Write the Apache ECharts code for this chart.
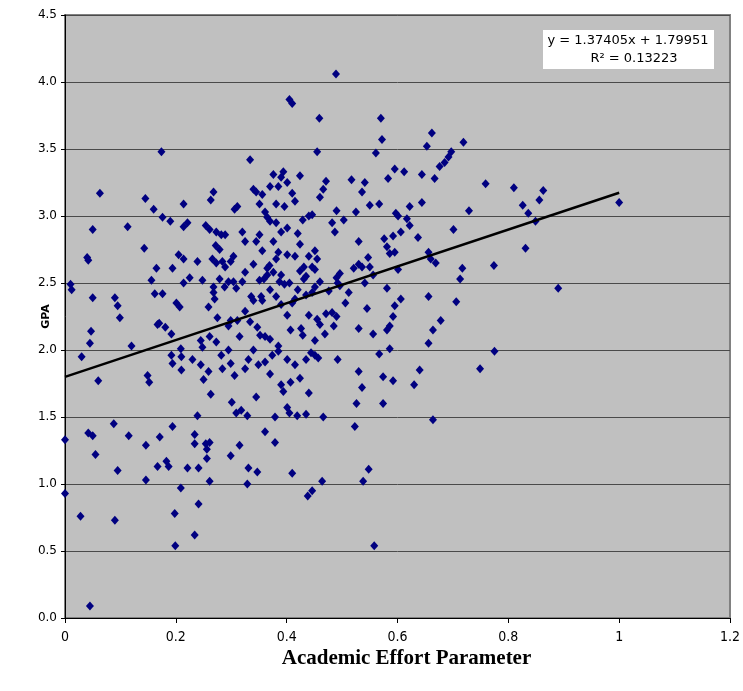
<!DOCTYPE html>
<html>
<head>
<meta charset="utf-8">
<script src="https://cdn.jsdelivr.net/npm/echarts@6/dist/echarts.min.js"></script>
<style>
  html, body { margin: 0; padding: 0; background: #fff; }
  #chart { width: 743px; height: 691px; }
</style>
</head>
<body>
<div id="chart"></div>
<script>
// effort parameter / GPA pairs
const points = [
  [0.0, 1.33], [0.0, 0.93], [0.01, 2.49], [0.012, 2.45], [0.03, 1.95], [0.028, 0.76],
  [0.04, 2.69], [0.042, 2.67], [0.045, 2.05], [0.042, 1.38], [0.05, 1.36], [0.047, 2.14],
  [0.05, 2.90], [0.05, 2.39], [0.045, 0.09], [0.055, 1.22], [0.06, 1.77], [0.063, 3.17],
  [0.09, 2.39], [0.088, 1.45], [0.09, 0.73], [0.095, 2.33], [0.099, 2.24], [0.095, 1.10],
  [0.113, 2.92], [0.115, 1.36], [0.12, 2.03],
  [0.145, 3.13], [0.143, 2.76], [0.149, 1.81], [0.152, 1.76], [0.146, 1.29], [0.146, 1.03],
  [0.156, 2.52], [0.16, 3.05], [0.162, 2.42], [0.165, 2.61], [0.167, 2.19], [0.17, 2.20],
  [0.171, 1.35], [0.167, 1.13], [0.176, 2.99], [0.176, 2.42], [0.174, 3.48], [0.181, 2.17],
  [0.183, 1.17], [0.187, 1.13], [0.19, 2.96], [0.192, 2.12], [0.192, 1.96], [0.194, 2.61],
  [0.194, 1.90], [0.194, 1.43], [0.198, 0.78], [0.201, 2.35], [0.199, 0.54], [0.205, 2.71],
  [0.207, 2.32], [0.209, 2.01], [0.21, 1.95], [0.21, 1.85], [0.209, 0.97], [0.214, 3.09],
  [0.214, 2.92], [0.214, 2.68], [0.214, 2.50], [0.221, 2.95], [0.221, 1.12], [0.225, 2.54],
  [0.23, 1.93], [0.234, 1.37], [0.234, 1.30], [0.234, 0.62], [0.239, 2.66], [0.239, 1.51],
  [0.241, 1.12], [0.245, 2.07], [0.245, 1.89], [0.241, 0.85], [0.248, 2.52], [0.248, 2.02],
  [0.25, 1.78], [0.254, 2.93], [0.254, 1.30], [0.259, 2.32], [0.259, 1.84], [0.256, 1.26],
  [0.256, 1.19], [0.263, 3.12], [0.261, 2.90], [0.261, 2.10], [0.263, 1.67], [0.261, 1.31],
  [0.261, 1.02], [0.268, 3.18], [0.266, 2.68], [0.268, 2.47], [0.268, 2.43], [0.27, 2.38],
  [0.273, 2.88], [0.272, 2.78], [0.273, 2.65], [0.275, 2.24], [0.273, 2.06], [0.279, 2.75],
  [0.279, 2.53], [0.282, 2.86], [0.284, 2.66], [0.282, 1.96], [0.284, 1.86], [0.289, 2.86],
  [0.288, 2.47], [0.289, 2.62], [0.295, 2.51], [0.295, 2.18], [0.295, 2.00], [0.299, 2.66],
  [0.299, 2.22], [0.299, 1.90], [0.301, 1.61], [0.299, 1.21], [0.306, 3.05], [0.304, 2.70],
  [0.304, 2.51], [0.306, 1.81], [0.311, 3.07], [0.309, 2.46], [0.311, 2.22], [0.309, 1.53],
  [0.315, 2.10], [0.315, 1.29], [0.32, 2.88], [0.32, 2.51], [0.318, 1.55], [0.325, 2.81],
  [0.325, 2.58], [0.325, 2.29], [0.325, 1.86], [0.331, 1.93], [0.329, 1.51], [0.331, 1.12],
  [0.329, 1.00], [0.334, 3.42], [0.336, 2.40], [0.334, 2.21], [0.34, 3.20], [0.34, 2.64],
  [0.34, 2.37], [0.34, 2.00], [0.345, 3.18], [0.345, 2.81], [0.347, 2.17], [0.345, 1.65],
  [0.347, 1.09], [0.351, 3.09], [0.351, 2.86], [0.351, 2.52], [0.352, 2.11], [0.349, 1.89],
  [0.356, 3.16], [0.356, 2.74], [0.354, 2.40], [0.356, 2.37], [0.361, 3.03], [0.359, 2.53],
  [0.361, 2.10], [0.361, 1.91], [0.365, 2.99], [0.365, 2.61], [0.365, 2.56], [0.361, 1.39],
  [0.37, 3.22], [0.37, 2.96], [0.369, 2.63], [0.37, 2.45], [0.37, 2.08], [0.37, 1.82],
  [0.376, 3.31], [0.376, 2.81], [0.376, 2.58], [0.374, 1.96], [0.381, 3.09], [0.381, 2.95],
  [0.381, 2.68], [0.381, 2.40], [0.379, 1.50], [0.379, 1.31], [0.385, 3.22], [0.385, 2.73],
  [0.387, 2.51], [0.385, 2.03], [0.385, 1.99], [0.39, 3.29], [0.39, 2.88], [0.39, 2.56],
  [0.39, 2.34], [0.39, 1.74], [0.394, 3.33], [0.396, 3.07], [0.396, 2.49], [0.394, 1.69],
  [0.401, 3.25], [0.401, 2.91], [0.401, 2.71], [0.401, 2.26], [0.401, 1.93], [0.401, 1.57],
  [0.405, 3.87], [0.41, 3.84], [0.405, 2.50], [0.407, 2.15], [0.407, 1.76], [0.405, 1.53],
  [0.41, 3.17], [0.41, 2.35], [0.41, 1.08], [0.415, 3.11], [0.415, 2.70], [0.415, 2.38],
  [0.415, 1.89], [0.42, 2.87], [0.42, 2.45], [0.419, 1.51], [0.424, 3.30], [0.424, 2.79],
  [0.424, 2.59], [0.426, 2.16], [0.424, 1.79], [0.429, 2.97], [0.431, 2.62], [0.431, 2.53],
  [0.429, 2.11], [0.435, 2.55], [0.435, 2.41], [0.435, 1.93], [0.435, 1.52], [0.44, 3.00],
  [0.44, 2.70], [0.44, 2.26], [0.44, 1.68], [0.438, 0.91], [0.446, 3.01], [0.446, 2.62],
  [0.446, 2.43], [0.444, 1.98], [0.446, 0.95], [0.451, 2.74], [0.451, 2.60], [0.451, 2.47],
  [0.451, 2.07], [0.451, 1.96], [0.455, 3.48], [0.455, 2.68], [0.455, 2.23], [0.457, 1.94],
  [0.459, 3.73], [0.46, 3.14], [0.46, 2.51], [0.46, 2.19], [0.466, 3.20], [0.466, 1.50],
  [0.464, 1.02], [0.471, 3.26], [0.471, 2.27], [0.469, 2.12], [0.476, 2.44], [0.482, 2.95],
  [0.482, 2.28], [0.485, 2.18], [0.487, 2.88], [0.489, 4.06], [0.49, 3.04], [0.49, 2.54],
  [0.492, 2.50], [0.49, 2.25], [0.492, 1.93], [0.496, 2.57], [0.496, 2.48], [0.503, 2.97],
  [0.506, 2.35], [0.512, 2.43], [0.517, 3.27], [0.521, 2.61], [0.523, 1.43], [0.525, 3.03],
  [0.526, 1.60], [0.53, 2.81], [0.53, 2.64], [0.53, 2.16], [0.53, 1.84], [0.536, 3.18],
  [0.536, 2.62], [0.536, 1.72], [0.541, 3.25], [0.541, 2.50], [0.538, 1.02], [0.545, 2.31],
  [0.547, 2.69], [0.55, 3.08], [0.55, 2.62], [0.548, 1.11], [0.556, 2.12], [0.556, 2.56],
  [0.561, 3.47], [0.558, 0.54], [0.567, 3.09], [0.567, 1.97], [0.57, 3.73], [0.572, 3.57],
  [0.576, 2.83], [0.574, 1.80], [0.574, 1.60], [0.583, 3.28], [0.581, 2.77], [0.581, 2.46],
  [0.581, 2.15], [0.586, 2.18], [0.586, 2.01], [0.586, 2.72], [0.592, 2.85], [0.592, 2.25],
  [0.592, 1.77], [0.595, 3.35], [0.597, 3.02], [0.595, 2.73], [0.595, 2.33], [0.601, 3.00],
  [0.601, 2.60], [0.606, 2.88], [0.606, 2.38], [0.612, 3.33], [0.617, 2.98], [0.622, 2.93],
  [0.622, 3.07], [0.63, 1.74], [0.637, 2.84], [0.64, 1.85], [0.644, 3.10], [0.644, 3.31],
  [0.653, 3.52], [0.656, 2.73], [0.656, 2.40], [0.656, 2.05], [0.664, 2.15], [0.662, 3.62],
  [0.667, 3.28], [0.66, 2.68], [0.669, 2.65], [0.664, 1.48], [0.676, 3.37], [0.678, 2.22],
  [0.685, 3.40], [0.692, 3.44], [0.697, 3.48], [0.701, 2.90], [0.706, 2.36], [0.713, 2.53],
  [0.717, 2.61], [0.719, 3.55], [0.729, 3.04], [0.749, 1.86], [0.759, 3.24], [0.774, 2.63],
  [0.775, 1.99], [0.81, 3.21], [0.826, 3.08], [0.831, 2.76], [0.836, 3.02], [0.849, 2.96],
  [0.856, 3.12], [0.863, 3.19], [0.89, 2.46], [1.0, 3.10]
];

// fitted line as drawn (x = 0 .. 1)
const trendX = [0, 1];
const trendY = [1.7995, 3.1736];
const trendText = ['y = 1.37405x + 1.79951', 'R\u00b2 = 0.13223'];

const xTicks = [0, 0.2, 0.4, 0.6, 0.8, 1, 1.2];
const yTicks = [0, 0.5, 1, 1.5, 2, 2.5, 3, 3.5, 4, 4.5];

const chart = echarts.init(document.getElementById('chart'));

chart.setOption({
  animation: false,
  backgroundColor: '#ffffff',
  grid: {
    left: 65, right: 11, top: 15, bottom: 73,
    show: true,
    backgroundColor: '#c0c0c0',
    borderColor: '#808080',
    borderWidth: 2
  },
  xAxis: {
    type: 'value',
    min: xTicks[0],
    max: xTicks[xTicks.length - 1],
    interval: 0.2,
    name: 'Academic Effort Parameter',
    nameLocation: 'middle',
    nameGap: 30,
    nameMoveOverlap: false,
    nameTextStyle: {
      fontFamily: 'Liberation Serif', fontWeight: 'bold', fontSize: 21, color: '#000',
      padding: [0, 0, 0, 18]
    },
    axisLine: { lineStyle: { color: '#000', width: 1 } },
    axisTick: { show: true, length: 5, lineStyle: { color: '#000' } },
    axisLabel: {
      margin: 12,
      fontFamily: 'Liberation Sans Narrow, DejaVu Sans Condensed, sans-serif',
      fontSize: 14, color: '#000',
      formatter: (v) => String(Math.round(v * 10) / 10)
    },
    splitLine: { show: false }
  },
  yAxis: {
    type: 'value',
    min: yTicks[0],
    max: yTicks[yTicks.length - 1],
    interval: 0.5,
    name: 'GPA',
    nameLocation: 'middle',
    nameGap: 13,
    nameMoveOverlap: false,
    nameTextStyle: {
      fontFamily: 'DejaVu Sans', fontWeight: 'bold', fontSize: 11, color: '#000'
    },
    axisLine: { lineStyle: { color: '#000', width: 1 } },
    axisTick: { show: true, length: 4, lineStyle: { color: '#000' } },
    axisLabel: {
      margin: 8,
      fontFamily: 'DejaVu Sans', fontSize: 12, color: '#000',
      formatter: (v) => v.toFixed(1)
    },
    splitLine: { show: true, lineStyle: { color: '#4a4a4a', width: 1 } }
  },
  series: [
    {
      type: 'scatter',
      data: points,
      symbol: 'diamond',
      symbolSize: [8, 9],
      itemStyle: { color: '#000080', opacity: 1 },
      z: 2
    },
    {
      type: 'line',
      data: trendX.map((x, i) => [x, trendY[i]]),
      symbol: 'none',
      lineStyle: { color: '#000', width: 2.5 },
      z: 3
    }
  ],
  graphic: [
    {
      type: 'rect',
      shape: { x: 543, y: 30, width: 171, height: 39 },
      style: { fill: '#ffffff' },
      z: 10
    },
    {
      type: 'text',
      x: 628, y: 41,
      style: {
        text: trendText[0], align: 'center', verticalAlign: 'middle',
        fontFamily: 'DejaVu Sans', fontSize: 13, fill: '#000'
      },
      z: 11
    },
    {
      type: 'text',
      x: 634, y: 59,
      style: {
        text: trendText[1], align: 'center', verticalAlign: 'middle',
        fontFamily: 'DejaVu Sans', fontSize: 13, fill: '#000'
      },
      z: 11
    }
  ]
});
</script>
</body>
</html>
